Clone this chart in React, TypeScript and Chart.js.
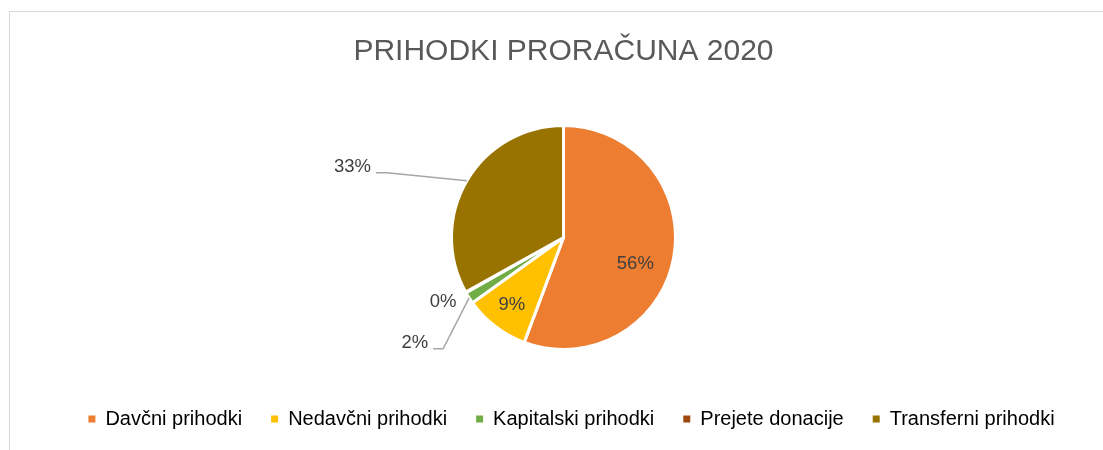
import React, { useEffect, useRef } from "react";
import { Chart, registerables } from "chart.js";

Chart.register(...registerables);

const TITLE = "PRIHODKI PRORAČUNA 2020";
const categories = [
  "Davčni prihodki",
  "Nedavčni prihodki",
  "Kapitalski prihodki",
  "Prejete donacije",
  "Transferni prihodki",
];
const shares = [55.7, 9.4, 1.7, 0.1, 33.1];
const colors = ["#ED7D31", "#FFC000", "#70AD47", "#9E480E", "#997300"];

// label placement styles (per slice): inside / outside with optional leader
type LabelSpec = {
  kind: "inside" | "outside" | "leader";
  r?: number;
  dx?: number;
  dy?: number;
  elbow?: [number, number];
  tail?: number;
};
const labelSpecs: LabelSpec[] = [
  { kind: "inside", r: 74, dx: -1, dy: 13 },
  { kind: "inside", r: 85, dx: 0, dy: 0 },
  { kind: "leader", elbow: [-26, 51], tail: 10 },
  { kind: "outside", r: 138, dx: 0, dy: -3 },
  { kind: "leader", elbow: [-80, -8], tail: 11 },
];

const FONT = "'Liberation Sans', Arial, sans-serif";

const labelPlugin = {
  id: "pieLabels",
  afterDatasetsDraw(chart: any) {
    const ctx = chart.ctx;
    const meta = chart.getDatasetMeta(0);
    const data = chart.data.datasets[0].data as number[];
    const total = data.reduce((a, b) => a + b, 0);
    ctx.save();
    ctx.font = `18.5px ${FONT}`;
    ctx.fillStyle = "#404040";
    meta.data.forEach((arc: any, i: number) => {
      const spec = labelSpecs[i];
      const { x, y, startAngle, endAngle, outerRadius } = arc.getProps(
        ["x", "y", "startAngle", "endAngle", "outerRadius"],
        true
      );
      const mid = (startAngle + endAngle) / 2;
      const cx = Math.cos(mid);
      const cy = Math.sin(mid);
      const txt = Math.round((data[i] / total) * 100) + "%";
      if (spec.kind === "inside" || spec.kind === "outside") {
        ctx.textAlign = "center";
        ctx.textBaseline = "middle";
        ctx.fillText(txt, x + cx * spec.r! + (spec.dx || 0), y + cy * spec.r! + (spec.dy || 0));
      } else {
        const ex = x + cx * outerRadius;
        const ey = y + cy * outerRadius;
        const bx = ex + spec.elbow![0];
        const by = ey + spec.elbow![1];
        const tx = bx - spec.tail!;
        ctx.strokeStyle = "#A6A6A6";
        ctx.lineWidth = 1.5;
        ctx.beginPath();
        ctx.moveTo(ex, ey);
        ctx.lineTo(bx, by);
        ctx.lineTo(tx, by);
        ctx.stroke();
        ctx.textAlign = "right";
        ctx.textBaseline = "middle";
        ctx.fillText(txt, tx - 5, by - 6);
      }
    });
    ctx.restore();
  },
};

const legendShift = {
  id: "legendShift",
  afterLayout(chart: any) {
    if (chart.legend) {
      chart.legend.left += 8;
      chart.legend.right += 8;
    }
  },
};

export default function App() {
  const ref = useRef<HTMLCanvasElement>(null);
  useEffect(() => {
    const chart = new Chart(ref.current!, {
      type: "pie",
      data: {
        labels: categories,
        datasets: [
          {
            data: shares,
            backgroundColor: colors,
            borderColor: "#FFFFFF",
            borderWidth: 3,
          },
        ],
      },
      options: {
        responsive: false,
        animation: false,
        devicePixelRatio: 1,
        radius: 112,
        layout: { padding: { left: 24, right: 0, top: 0, bottom: 11 } },
        plugins: {
          title: {
            display: true,
            text: TITLE,
            color: "#595959",
            font: { family: FONT, size: 30, weight: "normal" },
            padding: { top: 34, bottom: 25 },
          },
          legend: {
            position: "bottom",
            labels: {
              boxWidth: 7,
              boxHeight: 7,
              padding: 29,
              color: "#595959",
              font: { family: FONT, size: 20 },
              generateLabels: (c: any) =>
                c.data.labels.map((l: string, i: number) => ({
                  text: l,
                  fillStyle: colors[i],
                  strokeStyle: colors[i],
                  lineWidth: 0,
                  hidden: false,
                  index: i,
                })),
            },
          },
          tooltip: { enabled: false },
        },
      } as any,
      plugins: [labelPlugin, legendShift],
    });
    return () => chart.destroy();
  }, []);
  return (
    <div style={{ position: "fixed", left: 0, top: 0, width: 1103, height: 450, overflow: "hidden", background: "#fff" }}>
      <div
        style={{
          position: "absolute",
          left: 9,
          top: 11,
          width: 1300,
          height: 600,
          borderLeft: "1.5px solid #D9D9D9",
          borderTop: "1.5px solid #D9D9D9",
        }}
      />
      <canvas ref={ref} width={1103} height={450} style={{ position: "absolute", left: 0, top: 0, width: 1103, height: 450 }} />
    </div>
  );
}
